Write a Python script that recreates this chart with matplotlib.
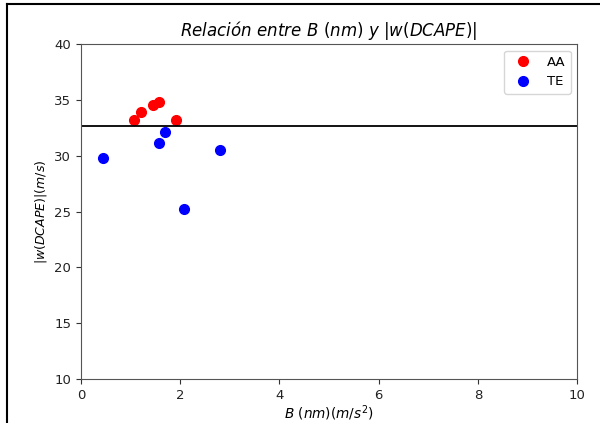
import matplotlib
matplotlib.use("Agg")
import matplotlib.pyplot as plt
from matplotlib.lines import Line2D

# Data
aa_x = [1.07, 1.20, 1.46, 1.58, 1.92]
aa_y = [33.2, 33.95, 34.5, 34.8, 33.2]
te_x = [0.45, 1.58, 1.69, 2.80, 2.08]
te_y = [29.8, 31.1, 32.1, 30.55, 25.2]
threshold = 32.7
xticks = [0, 2, 4, 6, 8, 10]
yticks = [10, 15, 20, 25, 30, 35, 40]

fig = plt.figure(figsize=(6.0, 4.23), dpi=100)
ax = fig.add_axes([0.135, 0.104, 0.827, 0.792])

ax.plot(aa_x, aa_y, 'o', color='red', markersize=7, label='AA')
ax.plot(te_x, te_y, 'o', color='blue', markersize=7, label='TE')
ax.axhline(threshold, color='black', linewidth=1.3)

ax.set_xlim(0, 10)
ax.set_ylim(10, 40)
ax.set_xticks(xticks)
ax.set_yticks(yticks)
ax.tick_params(labelsize=9.5, colors='#333333', labelcolor='#222222')
for s in ax.spines.values():
    s.set_color('#555555')

ax.set_title(r'$Relación\ entre\ B\ (nm)\ y\ |w(DCAPE)|$', fontsize=12)
ax.set_xlabel(r'$B\ (nm)(m/s^2)$', fontsize=9.8)
ax.xaxis.set_label_coords(0.5, -0.072)
ax.set_ylabel(r'$|w(DCAPE)|(m/s)$', fontsize=9)
ax.legend(loc='upper right', fontsize=9.5)

# screenshot frame lines
fig.add_artist(Line2D([0.012, 0.012], [0, 0.99], transform=fig.transFigure, color='black', linewidth=1.5))
fig.add_artist(Line2D([0.012, 1.0], [0.99, 0.99], transform=fig.transFigure, color='black', linewidth=1.5))

fig.savefig('out.png', dpi=100)
